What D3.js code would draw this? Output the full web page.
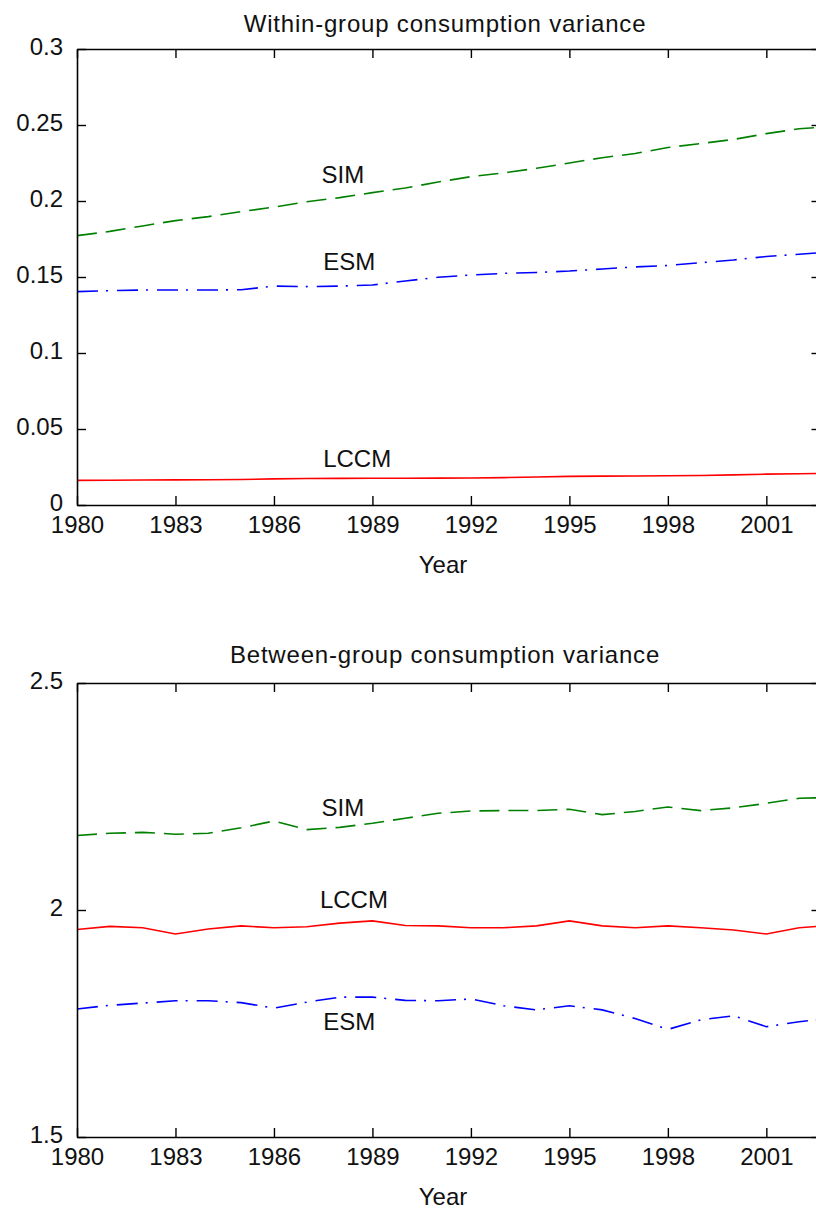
<!DOCTYPE html>
<html>
<head>
<meta charset="utf-8">
<script src="https://cdn.jsdelivr.net/npm/d3@7"></script>
<style>
  html, body { margin: 0; padding: 0; background: #fff; overflow: hidden; }
  svg { display: block; }
  text { font-family: "Liberation Sans", Arial, Helvetica, sans-serif; fill: #111; }
</style>
</head>
<body>
<div id="chart"></div>
<script>
// ---- data ----
var years = [1980, 1981, 1982, 1983, 1984, 1985, 1986, 1987, 1988, 1989, 1990, 1991,
             1992, 1993, 1994, 1995, 1996, 1997, 1998, 1999, 2000, 2001, 2002, 2003];
var xTicks = [1980, 1983, 1986, 1989, 1992, 1995, 1998, 2001];

// within-group
var withinSIM  = [0.1772, 0.1800, 0.1836, 0.1871, 0.1897, 0.1930, 0.1960, 0.1995, 0.2022, 0.2055, 0.2085, 0.2125,
                  0.2160, 0.2185, 0.2215, 0.2250, 0.2285, 0.2312, 0.2352, 0.2378, 0.2405, 0.2443, 0.2475, 0.2490];
var withinESM  = [0.1404, 0.1410, 0.1414, 0.1414, 0.1414, 0.1416, 0.1440, 0.1437, 0.1440, 0.1447, 0.1474, 0.1498,
                  0.1513, 0.1524, 0.1530, 0.1539, 0.1553, 0.1566, 0.1576, 0.1594, 0.1612, 0.1635, 0.1650, 0.1665];
var withinLCCM = [0.0162, 0.0163, 0.0164, 0.0165, 0.0166, 0.0168, 0.0172, 0.0174, 0.0175, 0.0176, 0.0176, 0.0177,
                  0.0178, 0.0180, 0.0184, 0.0188, 0.0190, 0.0191, 0.0192, 0.0194, 0.0198, 0.0203, 0.0206, 0.0208];
var withinTicks = [0, 0.05, 0.1, 0.15, 0.2, 0.25, 0.3];
var withinTickLabels = ["0", "0.05", "0.1", "0.15", "0.2", "0.25", "0.3"];

// between-group
var betweenSIM  = [2.164, 2.169, 2.171, 2.167, 2.169, 2.181, 2.196, 2.177, 2.182, 2.191, 2.202, 2.213,
                   2.218, 2.219, 2.219, 2.222, 2.210, 2.217, 2.227, 2.219, 2.225, 2.235, 2.246, 2.248];
var betweenLCCM = [1.957, 1.964, 1.961, 1.947, 1.958, 1.965, 1.961, 1.963, 1.971, 1.976, 1.966, 1.965,
                   1.961, 1.961, 1.965, 1.976, 1.965, 1.961, 1.965, 1.961, 1.956, 1.947, 1.961, 1.966];
var betweenESM  = [1.782, 1.790, 1.795, 1.800, 1.800, 1.796, 1.784, 1.797, 1.808, 1.808, 1.801, 1.800,
                   1.804, 1.789, 1.780, 1.789, 1.780, 1.761, 1.737, 1.758, 1.767, 1.743, 1.754, 1.762];
var betweenTicks = [1.5, 2, 2.5];
var betweenTickLabels = ["1.5", "2", "2.5"];

// label anchors: [year, value at baseline]
var withinLabels  = [["SIM", 1987.45, 0.2116], ["ESM", 1987.5, 0.1546], ["LCCM", 1987.5, 0.0252]];
var betweenLabels = [["SIM", 1987.45, 2.207], ["LCCM", 1987.4, 2.0037], ["ESM", 1987.5, 1.7357]];

var seriesStyle = {
  SIM:  { color: "#008000", dash: "20,9" },
  ESM:  { color: "#0000ff", dash: "21,8,2,9" },
  LCCM: { color: "#ff0000", dash: null }
};

var W = 816, H = 1213;
var svg = d3.select("#chart").append("svg")
    .attr("width", W).attr("height", H);

function panel(cfg) {
  var x = d3.scaleLinear().domain([1980, 2002.65]).range([77, 820.5]);
  var y = d3.scaleLinear().domain(cfg.domain).range([cfg.bottom, cfg.top]);

  var g = svg.append("g");
  var clipId = "clip" + cfg.id;
  svg.append("clipPath").attr("id", clipId)
    .append("rect")
      .attr("x", x.range()[0]).attr("y", cfg.top)
      .attr("width", x.range()[1] - x.range()[0])
      .attr("height", cfg.bottom - cfg.top);

  // series
  var line = d3.line()
      .x(function(d) { return x(d[0]); })
      .y(function(d) { return y(d[1]); });

  cfg.series.forEach(function(s) {
    var st = seriesStyle[s.name];
    g.append("path")
      .datum(years.map(function(yr, i) { return [yr, s.values[i]]; }))
      .attr("clip-path", "url(#" + clipId + ")")
      .attr("fill", "none")
      .attr("stroke", st.color)
      .attr("stroke-width", 1.6)
      .attr("stroke-dasharray", st.dash)
      .attr("d", line);
  });

  // axes, ticks pointing inward like matlab
  var ax = function(sel) {
    sel.selectAll(".domain").attr("stroke", "#000").attr("stroke-width", 1.6);
    sel.selectAll(".tick line").attr("stroke", "#000").attr("stroke-width", 1.4);
    sel.selectAll("text").style("font-size", "24px").attr("fill", "#111");
  };

  g.append("g")
    .attr("transform", "translate(0," + cfg.bottom + ")")
    .call(d3.axisBottom(x).tickValues(xTicks).tickFormat(d3.format("d"))
      .tickSizeInner(-9).tickSizeOuter(0).tickPadding(11))
    .call(ax)
    .selectAll("text").attr("y", 28).attr("dy", 0);

  g.append("g")
    .attr("transform", "translate(0," + cfg.top + ")")
    .call(d3.axisTop(x).tickValues(xTicks).tickFormat("")
      .tickSizeInner(-9).tickSizeOuter(0))
    .call(ax);

  g.append("g")
    .attr("transform", "translate(" + x.range()[0] + ",0)")
    .call(d3.axisLeft(y).tickValues(cfg.ticks)
      .tickFormat(function(d, i) { return cfg.tickLabels[i]; })
      .tickSizeInner(-9).tickSizeOuter(0))
    .call(ax)
    .selectAll("text").attr("x", -14).attr("dy", 0).attr("y", 5.5);

  g.append("g")
    .attr("transform", "translate(" + x.range()[1] + ",0)")
    .call(d3.axisRight(y).tickValues(cfg.ticks).tickFormat("")
      .tickSizeInner(-9).tickSizeOuter(0))
    .call(ax);

  // series labels
  cfg.labels.forEach(function(l) {
    g.append("text")
      .attr("x", x(l[1])).attr("y", y(l[2]))
      .style("font-size", "24px")
      .text(l[0]);
  });

  // title and x label
  g.append("text")
    .attr("x", 445).attr("y", cfg.titleY)
    .attr("text-anchor", "middle")
    .style("font-size", "24px")
    .style("letter-spacing", "0.8px")
    .text(cfg.title);

  g.append("text")
    .attr("x", 443).attr("y", cfg.bottom + 68)
    .attr("text-anchor", "middle")
    .style("font-size", "24px")
    .text("Year");
}

panel({
  id: "a", top: 49, bottom: 505, titleY: 32,
  domain: [0, 0.3], ticks: withinTicks, tickLabels: withinTickLabels,
  title: "Within-group consumption variance",
  series: [{ name: "SIM", values: withinSIM }, { name: "ESM", values: withinESM }, { name: "LCCM", values: withinLCCM }],
  labels: withinLabels
});

panel({
  id: "b", top: 683, bottom: 1137, titleY: 663,
  domain: [1.5, 2.5], ticks: betweenTicks, tickLabels: betweenTickLabels,
  title: "Between-group consumption variance",
  series: [{ name: "SIM", values: betweenSIM }, { name: "LCCM", values: betweenLCCM }, { name: "ESM", values: betweenESM }],
  labels: betweenLabels
});
</script>
</body>
</html>
